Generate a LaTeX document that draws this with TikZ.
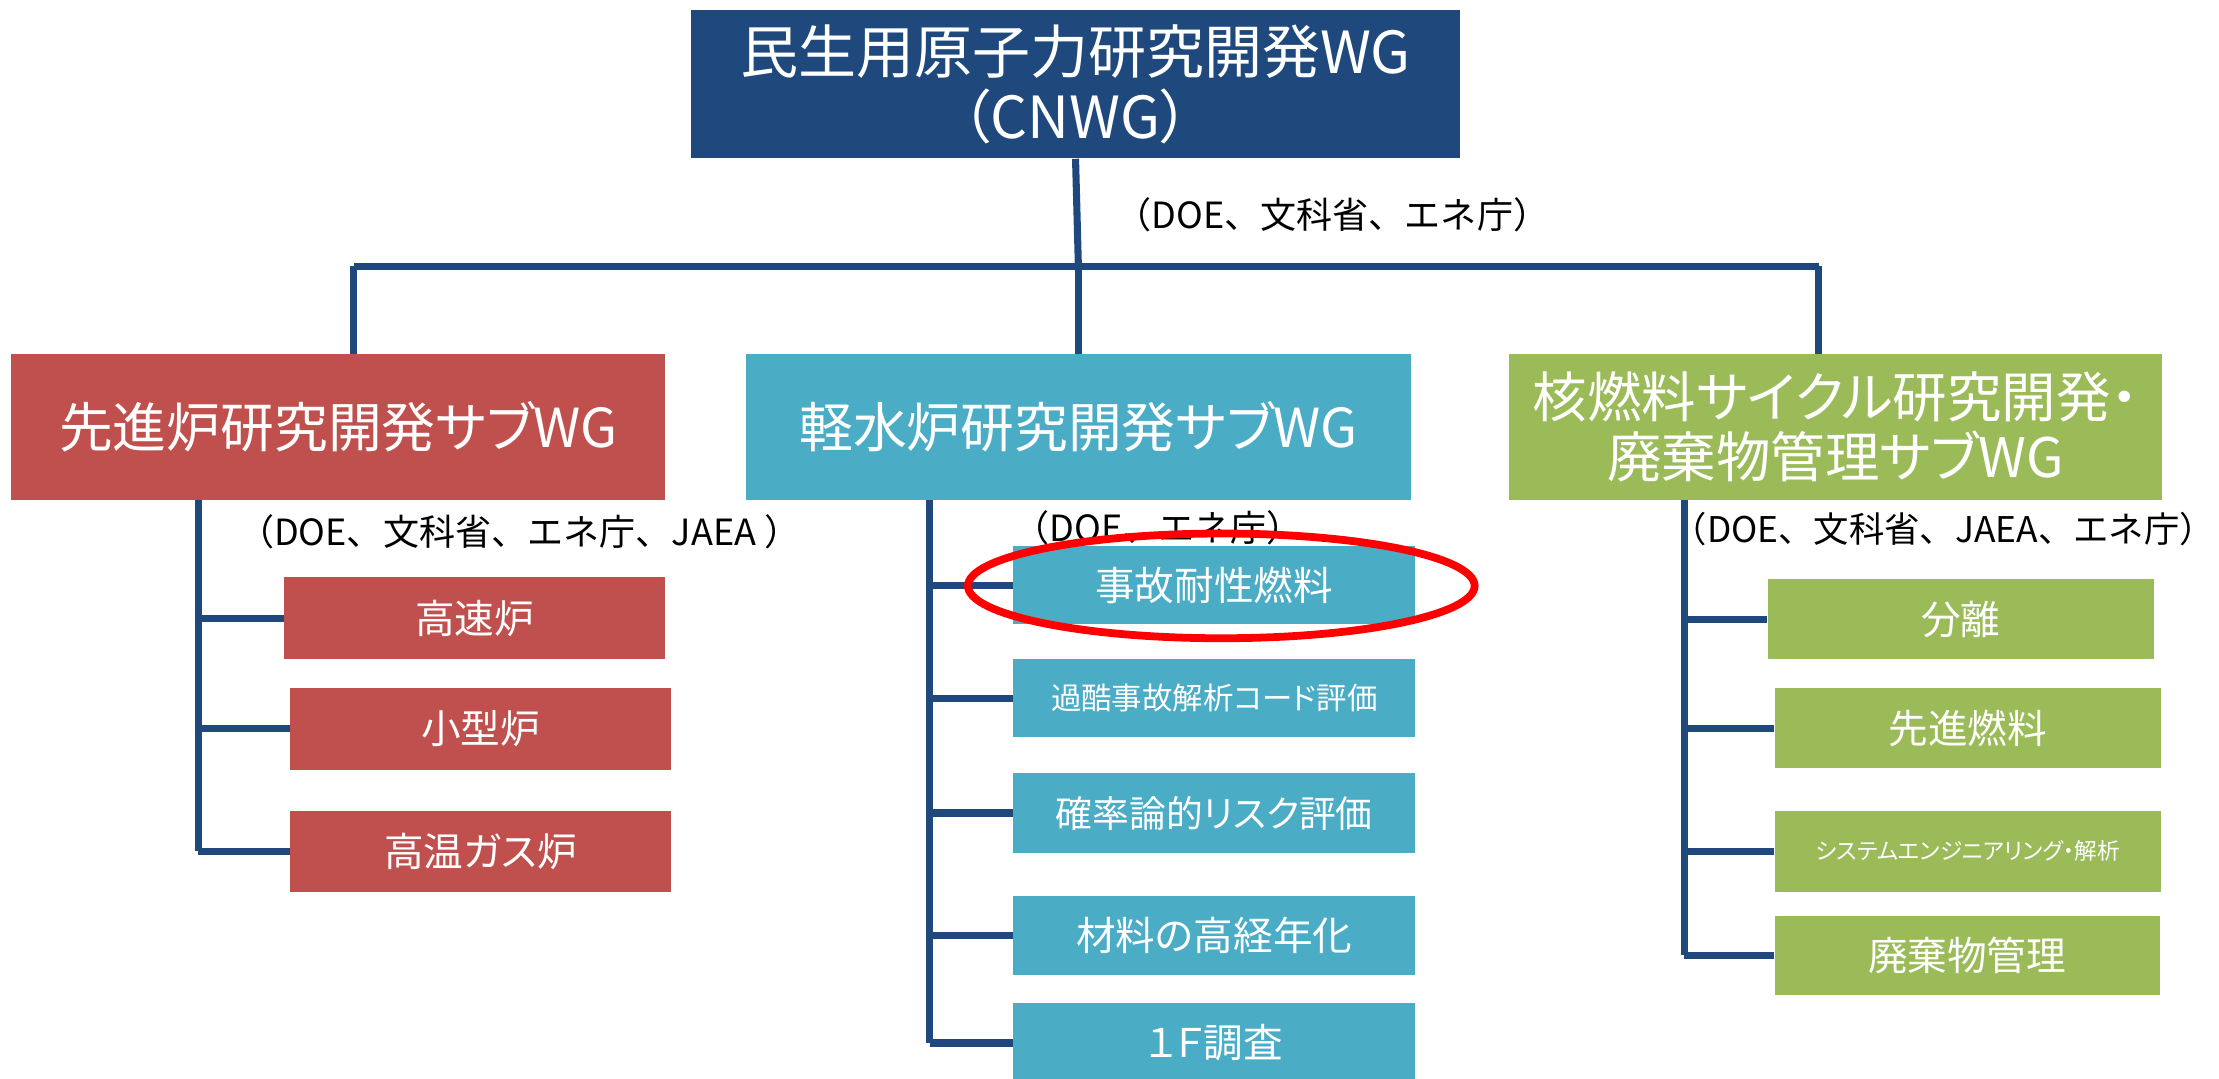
\documentclass[tikz,border=0pt]{standalone}
\usepackage{fontspec}
\usetikzlibrary{shapes.geometric}
\newfontfamily\jp{Noto Sans CJK JP}
\newfontfamily\jpp[RawFeature=+palt]{Noto Sans CJK JP}
\definecolor{navy}{HTML}{1F497D}
\definecolor{advred}{HTML}{C0504D}
\definecolor{lwrblue}{HTML}{4BACC6}
\definecolor{fcgreen}{HTML}{9BBB59}
\definecolor{ringred}{HTML}{FF0000}
\tikzset{
  box/.style={inner sep=0pt, text=white, align=center, font=\jpp},
  topbox/.style={box, fill=navy},
  redbox/.style={box, fill=advred},
  bluebox/.style={box, fill=lwrblue},
  greenbox/.style={box, fill=fcgreen},
  conn/.style={draw=navy, line width=5pt},
  lbl/.style={inner sep=0pt, anchor=west, text=black, font=\jp\fontsize{25.5}{29}\selectfont},
}
\begin{document}
\begin{tikzpicture}[x=1pt,y=-1pt]
\useasboundingbox (0,0) rectangle (1568,762);
% main boxes
\node[topbox, minimum width=544pt, minimum height=105pt, font=\jpp\fontsize{41}{46}\selectfont] (top) at (760,59.5) {民生用原子力研究開発WG\\（CNWG）};
\node[redbox, minimum width=462pt, minimum height=103pt, font=\jpp\fontsize{38}{43}\selectfont] (adv) at (239,301.5) {先進炉研究開発サブWG};
\node[bluebox, minimum width=470pt, minimum height=103pt, font=\jpp\fontsize{38}{43}\selectfont] (lwr) at (762,301.5) {軽水炉研究開発サブWG};
\node[greenbox, minimum width=462pt, minimum height=103pt, font=\jpp\fontsize{38.5}{42}\selectfont] (fc) at (1297,301.5) {核燃料サイクル研究開発・\\廃棄物管理サブWG};
% bus
\coordinate (bus) at (762,188);
\coordinate (busL) at (250,188);
\coordinate (busR) at (1285,188);
\draw[conn] (top.south) -- (bus);
\draw[conn] (busL) -- (busR);
\draw[conn] (busL) -- (busL |- adv.north);
\draw[conn] (bus) -- (lwr.north);
\draw[conn] (busR) -- (busR |- fc.north);
% labels
\node[lbl] (lblTop) at (788,152) {（DOE、文科省、エネ庁）};
\node[lbl] (lblAdv) at (168,376) {（DOE、文科省、エネ庁、JAEA ）};
\node[lbl] (lblLwr) at (716,373) {（DOE、エネ庁）};
\node[lbl, font=\jp\fontsize{25}{29}\selectfont] (lblFc) at (1181,374) {（DOE、文科省、JAEA、エネ庁）};
% left sub boxes
\node[redbox, minimum width=269pt, minimum height=58pt, font=\jpp\fontsize{28}{32}\selectfont] (fast) at (335.5,437) {高速炉};
\node[redbox, minimum width=269pt, minimum height=58pt, font=\jpp\fontsize{28}{32}\selectfont] (small) at (339.5,515) {小型炉};
\node[redbox, minimum width=269pt, minimum height=57pt, font=\jpp\fontsize{28}{32}\selectfont] (htgr) at (339.5,601.5) {高温ガス炉};
% middle sub boxes
\node[bluebox, minimum width=284pt, minimum height=55pt, font=\jpp\fontsize{28}{32}\selectfont] (atf) at (858,413.5) {事故耐性燃料};
\node[bluebox, minimum width=284pt, minimum height=55pt, font=\jpp\fontsize{21.5}{25}\selectfont] (sa) at (858,493.5) {過酷事故解析コード評価};
\node[bluebox, minimum width=284pt, minimum height=57pt, font=\jpp\fontsize{26}{30}\selectfont] (pra) at (858,574.5) {確率論的リスク評価};
\node[bluebox, minimum width=284pt, minimum height=56pt, font=\jpp\fontsize{28}{32}\selectfont] (aging) at (858,661) {材料の高経年化};
\node[bluebox, minimum width=284pt, minimum height=56pt, font=\jpp\fontsize{28}{32}\selectfont] (f1) at (858,737) {１Ｆ調査};
% right sub boxes
\node[greenbox, minimum width=273pt, minimum height=57pt, font=\jpp\fontsize{28}{32}\selectfont] (sep) at (1385.5,437.5) {分離};
\node[greenbox, minimum width=273pt, minimum height=57pt, font=\jpp\fontsize{28}{32}\selectfont] (af) at (1390.5,514.5) {先進燃料};
\node[greenbox, minimum width=273pt, minimum height=57pt, font=\jpp\fontsize{16}{20}\selectfont] (se) at (1390.5,601.5) {システムエンジニアリング・解析};
\node[greenbox, minimum width=272pt, minimum height=56pt, font=\jpp\fontsize{28}{32}\selectfont] (wm) at (1390,675) {廃棄物管理};
% spines
\coordinate (ls) at (140,353);
\coordinate (ms) at (657,353);
\coordinate (rs) at (1190,353);
\draw[conn] (ls) -- (ls |- htgr.west);
\draw[conn] (ls |- fast.west) -- (fast.west);
\draw[conn] (ls |- small.west) -- (small.west);
\draw[conn] (ls |- htgr.west) -- (htgr.west);
\draw[conn] (ms) -- (ms |- f1.west);
\draw[conn] (ms |- atf.west) -- (atf.west);
\draw[conn] (ms |- sa.west) -- (sa.west);
\draw[conn] (ms |- pra.west) -- (pra.west);
\draw[conn] (ms |- aging.west) -- (aging.west);
\draw[conn] (ms |- f1.west) -- (f1.west);
\draw[conn] (rs) -- (rs |- wm.west);
\draw[conn] (rs |- sep.west) -- (sep.west);
\draw[conn] (rs |- af.west) -- (af.west);
\draw[conn] (rs |- se.west) -- (se.west);
\draw[conn] (rs |- wm.west) -- (wm.west);
% highlight ring
\node[ellipse, draw=ringred, line width=5.5pt, minimum width=358pt, minimum height=74pt, inner sep=0pt] (ring) at (863,414) {};
\end{tikzpicture}
\end{document}
